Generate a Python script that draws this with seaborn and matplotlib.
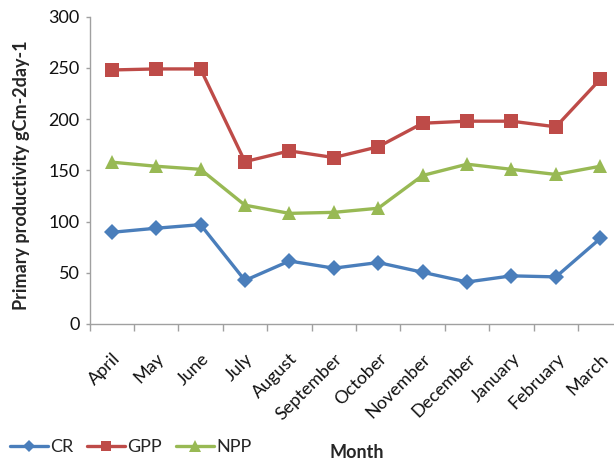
import matplotlib
matplotlib.use("Agg")
import matplotlib.pyplot as plt
import seaborn as sns
import pandas as pd
from matplotlib.lines import Line2D

months = ["April", "May", "June", "July", "August", "September", "October",
          "November", "December", "January", "February", "March"]
cr = [89.5, 93.5, 97, 42.5, 61.5, 54.5, 60, 50.5, 41, 47, 46, 83.5]
gpp = [248, 249, 249, 158.5, 169, 162.5, 173, 196, 198, 198, 192.5, 239]
npp = [158, 154, 151, 116, 108, 109, 113, 145, 156, 151, 146, 154]

series = ["CR", "GPP", "NPP"]
colors = {"CR": "#4A7EBB", "GPP": "#BE4B48", "NPP": "#98B954"}
markers = {"CR": "D", "GPP": "s", "NPP": "^"}
msizes = {"CR": 8, "GPP": 9.5, "NPP": 10.5}

df = pd.concat([
    pd.DataFrame({"Month": months, "value": vals, "series": name})
    for name, vals in zip(series, [cr, gpp, npp])
])

sns.set_style("white")
plt.rcParams["font.family"] = ["Lato", "DejaVu Sans"]

W, H = 614, 462
left, right, top, bottom = 89.5, 622.5, 16.7, 324
fig = plt.figure(figsize=(W / 100, H / 100), dpi=100)
ax = fig.add_axes([left / W, 1 - bottom / H, (right - left) / W, (bottom - top) / H])

for name in series:
    sub = df[df["series"] == name]
    sns.lineplot(data=sub, x="Month", y="value", ax=ax, color=colors[name],
                 marker=markers[name], markersize=msizes[name], linewidth=2.4,
                 markeredgewidth=0, sort=False, legend=False)

ax.set_ylim(0, 300)
ax.set_yticks(range(0, 301, 50))
ax.set_xlim(-0.5, 11.5)
ax.set_xticks(range(len(months)))
ax.set_xticklabels(months, rotation=45, ha="right", rotation_mode="anchor")
ax.set_xticks([i - 0.5 for i in range(len(months) + 1)], minor=True)
ax.tick_params(axis="x", which="major", length=0, labelsize=13, pad=19, colors="#111111")
ax.tick_params(axis="x", which="minor", length=5, width=1, color="#A0A0A0", direction="out", bottom=True)
ax.tick_params(axis="y", length=3, width=1, color="#A0A0A0", direction="out", left=True,
               labelsize=13, labelcolor="#111111", pad=4)

for s in ["top", "right"]:
    ax.spines[s].set_visible(False)
for s in ["left", "bottom"]:
    ax.spines[s].set_color("#A0A0A0")
    ax.spines[s].set_linewidth(1)

ax.set_xlabel("")
ax.set_ylabel("")
fig.text(22 / W, 1 - 175 / H, "Primary productivity gCm-2day-1", rotation=90,
         ha="center", va="center", fontsize=13, fontweight="bold")

fig.text(357 / W, 1 - 452 / H, "Month", ha="center", va="center", fontsize=13, fontweight="bold")

handles = [Line2D([0], [0], color=colors[n], marker=markers[n], markersize=msizes[n] * 0.8,
                  markeredgewidth=0, linewidth=2.4) for n in series]
fig.legend(handles, series, loc="center left", bbox_to_anchor=(10 / W, 1 - 447 / H), ncol=3,
           frameon=False, fontsize=13, handlelength=2.1, handletextpad=0.1, columnspacing=0.8,
           borderaxespad=0.0, borderpad=0.0)

fig.savefig("out.png", dpi=100)
